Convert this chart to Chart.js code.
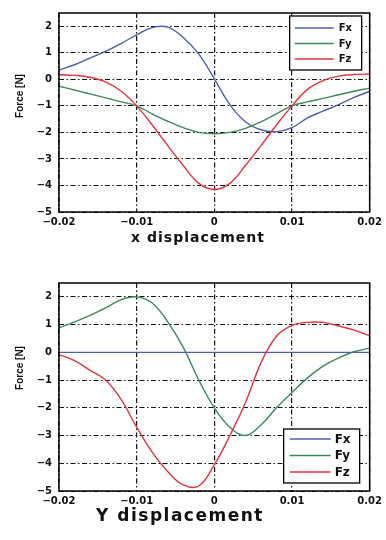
<!DOCTYPE html>
<html><head><meta charset="utf-8">
<script src="https://cdn.jsdelivr.net/npm/chart.js@4.4.1/dist/chart.umd.min.js"></script>
<style>
html,body{margin:0;padding:0;background:#fff;}
#wrap{position:relative;width:386px;height:540px;overflow:hidden;background:#fff;}
canvas{position:absolute;left:0;display:block;}
#c1{top:0}#c2{top:270px}
</style></head><body>
<div id="wrap"><canvas id="c1" width="386" height="270"></canvas><canvas id="c2" width="386" height="270"></canvas></div>
<script>
// ---- data ----
const xDisp = [-0.020,-0.018,-0.016,-0.014,-0.012,-0.010,-0.008,-0.006,-0.004,-0.002,0.000,0.002,0.004,0.006,0.008,0.010,0.012,0.014,0.016,0.018,0.020];
const seriesNames = ['Fx','Fy','Fz'];
// top chart: x displacement
const topFx = [0.35,0.55,0.80,1.05,1.35,1.68,1.95,1.97,1.58,0.95,0.02,-0.95,-1.60,-1.90,-1.97,-1.82,-1.45,-1.20,-0.95,-0.68,-0.45];
const topFy = [-0.26,-0.40,-0.55,-0.70,-0.85,-1.00,-1.30,-1.58,-1.82,-2.00,-2.05,-2.00,-1.85,-1.60,-1.30,-1.00,-0.85,-0.72,-0.58,-0.45,-0.33];
const topFz = [0.17,0.15,0.08,-0.10,-0.45,-1.00,-1.72,-2.50,-3.25,-3.92,-4.15,-3.92,-3.25,-2.50,-1.72,-1.00,-0.38,-0.05,0.12,0.18,0.20];
// bottom chart: Y displacement
const botFx = [0,0,0,0,0,0,0,0,0,0,0,0,0,0,0,0,0,0,0,0,0];
const botFy = [0.88,1.10,1.33,1.60,1.90,2.00,1.78,1.10,0.18,-1.00,-2.00,-2.70,-3.00,-2.62,-2.00,-1.45,-0.92,-0.50,-0.20,0.02,0.15];
const botFz = [-0.08,-0.30,-0.65,-1.00,-1.70,-2.70,-3.60,-4.30,-4.78,-4.82,-4.05,-3.00,-1.82,-0.38,0.58,0.97,1.08,1.08,0.95,0.80,0.60];
// ticks
const xTicks = [-0.02,-0.01,0,0.01,0.02];
const yTicks = [-5,-4,-3,-2,-1,0,1,2];
const yTitle = 'Force [N]';
const xTitleTop = 'x displacement';
const xTitleBot = 'Y displacement';

const colors = ['#4d5fae','#3b8a5c','#e2343f'];
const minus = '\u2212';
const fmtX = v => v === 0 ? '0' : (v < 0 ? minus : '') + Math.abs(v).toFixed(2);
const fmtY = v => v === 0 ? '0' : (v < 0 ? minus : '') + Math.abs(v);

const decor = {
  id: 'decor',
  afterDatasetsDraw(chart, args, opts) {
    const {ctx, chartArea: a} = chart;
    ctx.save();
    ctx.strokeStyle = '#000'; ctx.lineWidth = 1.5;
    ctx.strokeRect(a.left, a.top, a.right - a.left, a.bottom - a.top);
    const L = opts.legend;
    const bx = a.right - L.dx - L.w;
    const by = L.anchor === 'top' ? a.top + L.dy : a.bottom - L.dy - L.h;
    ctx.fillStyle = '#fff'; ctx.fillRect(bx, by, L.w, L.h);
    ctx.strokeStyle = '#000'; ctx.lineWidth = 1.3; ctx.strokeRect(bx, by, L.w, L.h);
    chart.data.datasets.forEach((ds, i) => {
      const y = by + L.row0 + i * L.gap;
      ctx.strokeStyle = ds.borderColor; ctx.lineWidth = 1.6;
      ctx.beginPath(); ctx.moveTo(bx + L.l0, y); ctx.lineTo(bx + L.l1, y); ctx.stroke();
      ctx.fillStyle = '#111'; ctx.font = L.font; ctx.textBaseline = 'middle'; ctx.textAlign = 'left';
      ctx.fillText(ds.label, bx + L.tx, y + 0.5);
    });
    ctx.restore();
  },
  afterDraw(chart, args, opts) {
    const ctx = chart.ctx;
    const yt = opts.yTitle, xt = opts.xTitle;
    ctx.save();
    ctx.fillStyle = '#111';
    ctx.translate(yt.x, yt.y); ctx.rotate(-Math.PI / 2);
    ctx.font = yt.font; ctx.textAlign = 'center'; ctx.textBaseline = 'middle';
    ctx.fillText(yt.text, 0, 0);
    ctx.restore();
    ctx.save();
    ctx.fillStyle = '#111';
    ctx.font = xt.font; ctx.textAlign = 'center'; ctx.textBaseline = 'middle';
    if ('letterSpacing' in ctx) ctx.letterSpacing = xt.spacing + 'px';
    ctx.fillText(xt.text, xt.x, xt.y);
    ctx.restore();
  }
};

function makeChart(id, fx, fy, fz, cfg) {
  const vals = [fx, fy, fz];
  return new Chart(document.getElementById(id), {
    type: 'line',
    data: {
      datasets: seriesNames.map((n, i) => ({
        label: n,
        data: xDisp.map((x, k) => ({x: x, y: vals[i][k]})),
        borderColor: colors[i],
        borderWidth: 1.4,
        pointRadius: 0,
        tension: 0.4,
        fill: false,
        order: 2 - i
      }))
    },
    options: {
      responsive: false,
      animation: false,
      devicePixelRatio: 1,
      layout: {padding: {top: cfg.padTop, right: 14, left: 0, bottom: 0}},
      plugins: {
        legend: {display: false},
        tooltip: {enabled: false},
        decor: {legend: cfg.legend, yTitle: cfg.yTitle, xTitle: cfg.xTitle}
      },
      scales: {
        x: {
          type: 'linear', min: -0.02, max: 0.02,
          afterBuildTicks: s => { s.ticks = xTicks.map(v => ({value: v})); },
          afterFit: s => { s.height = cfg.xH; },
          grid: {color: '#111', lineWidth: 1.2, drawTicks: false},
          border: {display: false, dash: [5, 2.5, 1.5, 2.5]},
          ticks: {callback: fmtX, color: '#111', padding: 4, maxRotation: 0, autoSkip: false,
                  font: {family: 'DejaVu Sans', weight: 'bold', size: 10}}
        },
        y: {
          type: 'linear', min: -5, max: 2.5,
          afterBuildTicks: s => { s.ticks = yTicks.map(v => ({value: v})); },
          afterFit: s => { s.width = 59; },
          grid: {color: '#111', lineWidth: 1, drawTicks: false},
          border: {display: false, dash: [5, 2.5, 1.5, 2.5]},
          ticks: {callback: fmtY, color: '#111', padding: 7, autoSkip: false,
                  font: {family: 'DejaVu Sans', weight: 'bold', size: 10}}
        }
      }
    },
    plugins: [decor]
  });
}

makeChart('c1', topFx, topFy, topFz, {
  padTop: 10, xH: 58,
  legend: {anchor: 'top', dx: 8, dy: 3, w: 72, h: 54, row0: 12, gap: 15.5, l0: 5, l1: 44, tx: 49, font: 'bold 10px "DejaVu Sans"'},
  yTitle: {text: yTitle, x: 20, y: 96, font: 'bold 10px "Liberation Sans"'},
  xTitle: {text: xTitleTop, x: 198, y: 238, font: 'bold 14px "DejaVu Sans"', spacing: 1}
});
makeChart('c2', botFx, botFy, botFz, {
  padTop: 12, xH: 49,
  legend: {anchor: 'bottom', dx: 10, dy: 8, w: 76, h: 54, row0: 10, gap: 16.5, l0: 6, l1: 47, tx: 51, font: 'bold 12px "DejaVu Sans"'},
  yTitle: {text: yTitle, x: 20, y: 98, font: 'bold 10px "Liberation Sans"'},
  xTitle: {text: xTitleBot, x: 180, y: 247, font: 'bold 17px "DejaVu Sans"', spacing: 1.5}
});
</script>
</body></html>
